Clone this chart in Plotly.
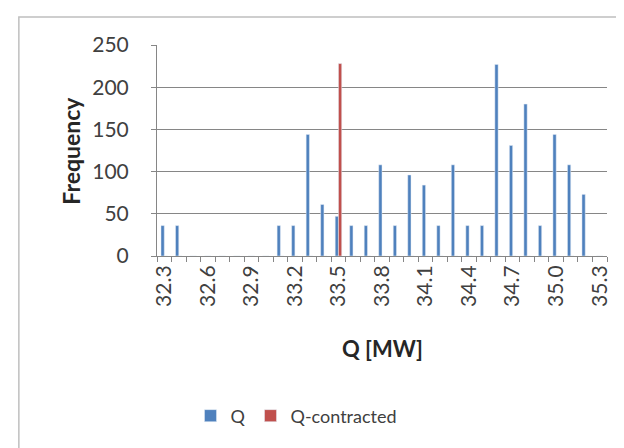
import plotly.graph_objects as go

# categories (Q in MW) and frequencies
q_labels = ["32.3", "32.4", "32.5", "32.6", "32.7", "32.8", "32.9", "33.0", "33.1", "33.2",
            "33.3", "33.4", "33.5", "33.6", "33.7", "33.8", "33.9", "34.0", "34.1", "34.2",
            "34.3", "34.4", "34.5", "34.6", "34.7", "34.8", "34.9", "35.0", "35.1", "35.2", "35.3"]
q_freq = [36, 36, 0, 0, 0, 0, 0, 0, 36, 36,
          144, 61, 47, 36, 36, 108, 36, 96, 84, 36,
          108, 36, 36, 227, 131, 180, 36, 144, 108, 73, 0]
q_contracted = [0, 0, 0, 0, 0, 0, 0, 0, 0, 0,
                0, 0, 228, 0, 0, 0, 0, 0, 0, 0,
                0, 0, 0, 0, 0, 0, 0, 0, 0, 0, 0]
shown_labels = ["32.3", "32.6", "32.9", "33.2", "33.5", "33.8", "34.1", "34.4", "34.7", "35.0", "35.3"]

fig = go.Figure()
fig.add_trace(go.Bar(x=q_labels, y=q_freq, name="Q", marker_color="#4F81BD"))
fig.add_trace(go.Bar(x=q_labels, y=q_contracted, name="Q-contracted", marker_color="#C0504D"))

font = "Lato, 'Open Sans', sans-serif"
ticktext = [lbl if lbl in shown_labels else "" for lbl in q_labels]

fig.update_layout(
    width=624, height=448,
    margin=dict(l=149, r=25, t=37, b=200),
    paper_bgcolor="white", plot_bgcolor="white",
    barmode="group", bargap=0.55, bargroupgap=0,
    font=dict(family=font, size=21, color="#404040"),
    showlegend=True,
    legend=dict(orientation="h", x=0.31, y=-0.758, xanchor="center", yanchor="middle",
                font=dict(size=18, color="#404040"), itemwidth=30, traceorder="normal"),
)
fig.update_xaxes(
    type="category", tickmode="array", tickvals=q_labels, ticktext=ticktext,
    tickangle=-90, tickson="boundaries", ticks="outside", ticklen=5, tickcolor="#868686",
    showline=True, linecolor="#868686", linewidth=1, showgrid=False,
)
fig.update_yaxes(
    range=[0, 250], dtick=50, ticks="outside", ticklen=5, tickcolor="#868686",
    ticklabelstandoff=18,
    showline=True, linecolor="#868686", linewidth=1,
    showgrid=True, gridcolor="#868686", gridwidth=1, zeroline=False,
)

fig.add_annotation(text="<b>Frequency</b>", x=-0.193, y=0.5, xref="paper", yref="paper",
                   xanchor="center", yanchor="middle",
                   textangle=-90, showarrow=False, font=dict(size=23, color="#262626"))
fig.add_annotation(text="<b>Q [MW]</b>", x=0.5, y=-0.44, xref="paper", yref="paper",
                   xanchor="center", yanchor="middle",
                   showarrow=False, font=dict(size=22, color="#262626"))

# chart area border
fig.add_shape(type="rect", xref="paper", yref="paper", x0=-0.307, x1=1.047, y0=-0.94, y1=1.133,
              line=dict(color="#BFBFBF", width=1.5))

fig.write_html("out.html")
